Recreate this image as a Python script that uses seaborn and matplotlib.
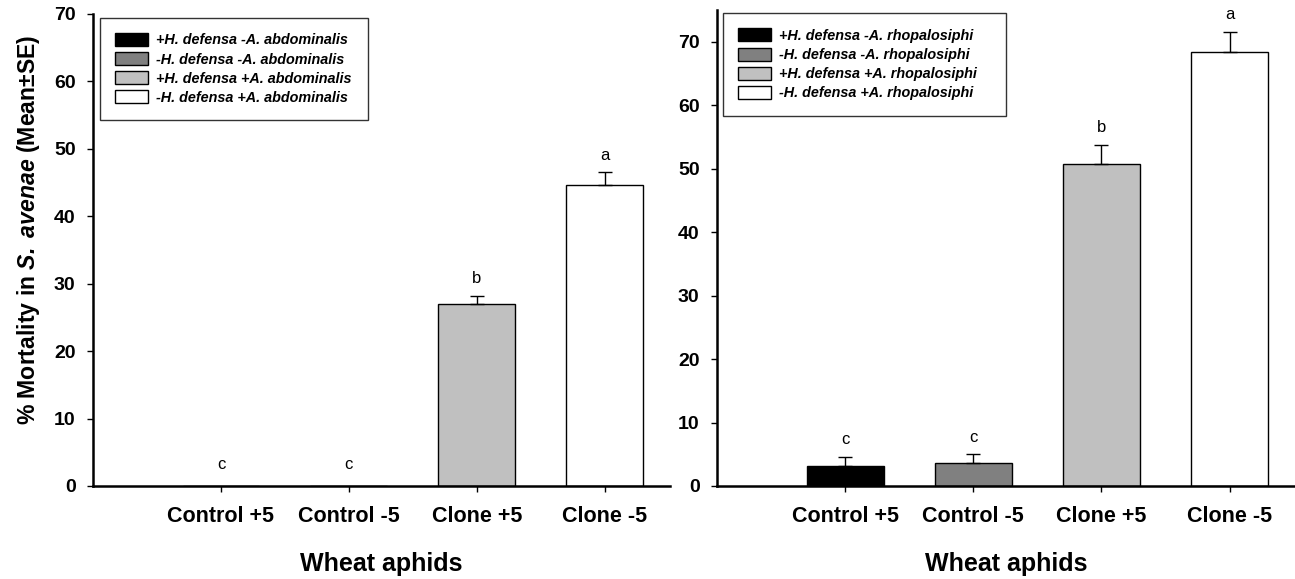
import numpy as np
import pandas as pd
import matplotlib
matplotlib.use("Agg")
import matplotlib.pyplot as plt
import seaborn as sns

# ---------------- data ----------------
categories = ["Control +5", "Control -5", "Clone +5", "Clone -5"]

left_means = [0.0, 0.0, 27.0, 44.7]
left_se = [0.0, 0.0, 1.2, 1.8]
left_letters = ["c", "c", "b", "a"]
left_legend = ["+H. defensa -A. abdominalis", "-H. defensa -A. abdominalis",
               "+H. defensa +A. abdominalis", "-H. defensa +A. abdominalis"]

right_means = [3.1, 3.6, 50.7, 68.4]
right_se = [1.5, 1.4, 3.1, 3.1]
right_letters = ["c", "c", "b", "a"]
right_legend = ["+H. defensa -A. rhopalosiphi", "-H. defensa -A. rhopalosiphi",
                "+H. defensa +A. rhopalosiphi", "-H. defensa +A. rhopalosiphi"]

bar_colors = ["#000000", "#808080", "#c0c0c0", "#ffffff"]

xlabel = "Wheat aphids"
ylabel = r"$\mathbf{\%\ Mortality\ in\ }\mathbfit{S.\ avenae}\mathbf{\ (Mean±SE)}$"

# ---------------- style ----------------
sns.set_style("ticks")
plt.rcParams["font.family"] = ["Liberation Sans", "DejaVu Sans"]
plt.rcParams["mathtext.fontset"] = "custom"
plt.rcParams["mathtext.rm"] = "Liberation Sans"
plt.rcParams["mathtext.bf"] = "Liberation Sans:bold"
plt.rcParams["mathtext.it"] = "Liberation Sans:italic"
plt.rcParams["mathtext.bfit"] = "Liberation Sans:bold:italic"
for key in ("text.color", "axes.labelcolor", "xtick.color", "ytick.color", "axes.edgecolor"):
    plt.rcParams[key] = "black"

fig = plt.figure(figsize=(12.95, 5.79), dpi=100)
ax_l = fig.add_axes([93 / 1295, 93 / 579, 577 / 1295, 472 / 579])
ax_r = fig.add_axes([717 / 1295, 93 / 579, 578 / 1295, 476 / 579])


def draw(ax, means, se, letters, legend_labels, ymax, yticks, leg_box):
    df = pd.DataFrame({"cat": categories, "val": means})
    sns.barplot(data=df, x="cat", y="val", hue="cat", palette=bar_colors,
                edgecolor="black", linewidth=1.0, width=0.6, legend=False,
                saturation=1, ax=ax)
    bars = list(ax.patches)
    xs = [p.get_x() + p.get_width() / 2 for p in bars]
    for x, m, s, lab in zip(xs, means, se, letters):
        if s > 0:
            ax.errorbar([x], [m], yerr=[[0], [s]], fmt="none", ecolor="black",
                        elinewidth=1.0, capsize=4.8, capthick=1.0, zorder=1)
        ax.annotate(lab, xy=(x, m + s), xytext=(0, 7 if m > 0 else 10),
                    textcoords="offset points", ha="center", va="bottom",
                    fontsize=12, fontweight="normal", color="black")
    ax.set_xlim(-1.0, 3.51)
    ax.set_ylim(0, ymax)
    ax.set_yticks(yticks)
    ax.set_xlabel(xlabel, fontsize=18, fontweight="bold", labelpad=18)
    ax.set_ylabel("")
    for lab in ax.get_xticklabels():
        lab.set_fontweight("bold")
        lab.set_fontsize(15.5)
    for lab in ax.get_yticklabels():
        lab.set_fontweight("bold")
        lab.set_fontsize(14)
    ax.tick_params(axis="x", direction="out", length=4.5, width=1.0, pad=10, colors="black")
    ax.tick_params(axis="y", direction="out", length=4, width=1.0, pad=8.5, colors="black")
    sns.despine(ax=ax)
    for sp in ("left", "bottom"):
        ax.spines[sp].set_linewidth(1.8)
        ax.spines[sp].set_color("black")
    leg = ax.legend(bars, legend_labels, loc="upper left", mode="expand",
                    bbox_to_anchor=leg_box, frameon=True, fancybox=False,
                    prop={"size": 10.4, "weight": "bold", "style": "italic"},
                    handlelength=2.3, handleheight=1.0, handletextpad=0.55,
                    labelspacing=0.33, borderpad=1.05, borderaxespad=0)
    leg.get_frame().set_edgecolor("black")
    leg.get_frame().set_linewidth(1.0)


draw(ax_l, left_means, left_se, left_letters, left_legend, 70, range(0, 71, 10),
     (0.012, 0.5, 0.4645, 0.492))
draw(ax_r, right_means, right_se, right_letters, right_legend, 75, range(0, 71, 10),
     (0.010, 0.5, 0.4896, 0.493))
ax_l.set_ylabel(ylabel, fontsize=16.6)
ax_l.yaxis.set_label_coords(-0.088, 0.542)

fig.savefig("out.png", dpi=100)
